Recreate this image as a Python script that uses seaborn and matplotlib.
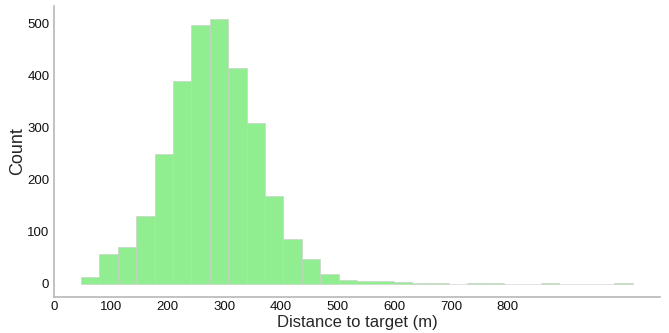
import matplotlib
matplotlib.use("Agg")
import matplotlib.pyplot as plt
import numpy as np
import pandas as pd
import seaborn as sns

# histogram: 30 bins from 48 m, 32.4 m wide
bin_start = 48.0
bin_width = 32.4
counts = [14, 57, 70, 130, 249, 390, 498, 509, 416, 310,
          169, 87, 47, 19, 8, 5, 6, 3, 2, 2,
          0, 2, 2, 0, 0, 1, 0, 0, 0, 1]
xticks = [0, 100, 200, 300, 400, 500, 600, 700, 800]

edges = bin_start + bin_width * np.arange(len(counts) + 1)
df = pd.DataFrame({"distance": (edges[:-1] + edges[1:]) / 2,
                   "count": counts})

sns.set_style("white")
plt.rcParams["font.family"] = ["Liberation Sans", "DejaVu Sans"]

fig = plt.figure(figsize=(6.69, 3.33), dpi=100)
ax = fig.add_axes([0.08, 0.108, 0.907, 0.874])
sns.histplot(data=df, x="distance", weights="count", bins=list(edges),
             color="#90EE90", edgecolor="#cccccc", linewidth=0.4,
             alpha=1, ax=ax)

span = edges[-1] - edges[0]
ax.set_xlim(edges[0] - 0.05 * span, edges[-1] + 0.05 * span)
ax.set_ylim(-0.05 * max(counts), 1.05 * max(counts))
ax.set_xticks(xticks)
ax.set_yticks([0, 100, 200, 300, 400, 500])
ax.tick_params(length=0, labelsize=9.5, labelcolor="#111111", pad=3)
ax.set_xlabel("Distance to target (m)", fontsize=12, labelpad=1)
ax.set_ylabel("Count", fontsize=13, labelpad=0.5)
for s in ["top", "right"]:
    ax.spines[s].set_visible(False)
for s in ["left", "bottom"]:
    ax.spines[s].set_color("#b8b8b8")
    ax.spines[s].set_linewidth(1.2)

fig.savefig("out.png", dpi=100)
